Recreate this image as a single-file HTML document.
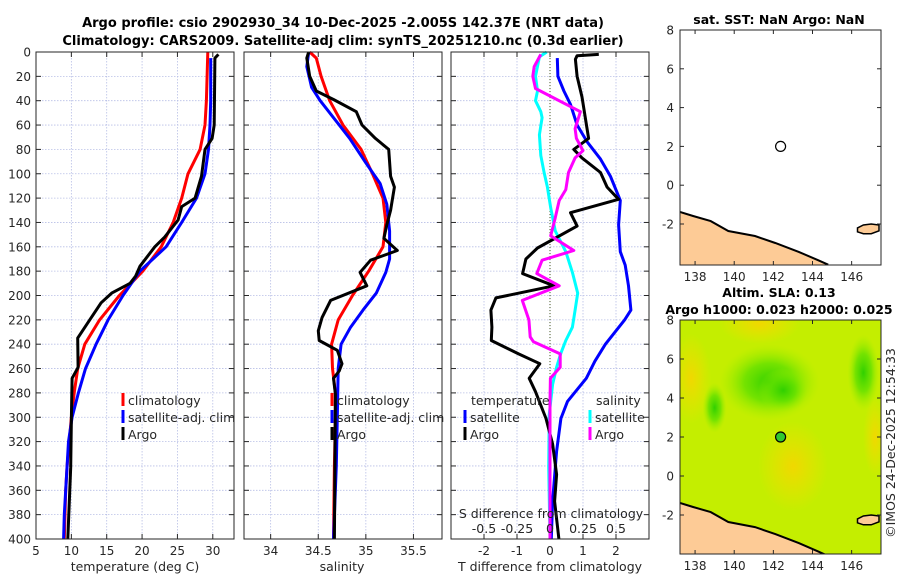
<!DOCTYPE html>
<html><head><meta charset="utf-8"><style>
html,body{margin:0;padding:0;background:#fff;}
svg{display:block;font-family:"DejaVu Sans","Liberation Sans",sans-serif;}
</style></head><body>
<svg id="fig" width="900" height="580" viewBox="0 0 900 580" xmlns="http://www.w3.org/2000/svg">
<defs>
<radialGradient id="g1" cx="50%" cy="50%" r="50%"><stop offset="0" stop-color="#30d000"/><stop offset="0.5" stop-color="#60e000" stop-opacity="0.8"/><stop offset="1" stop-color="#a0ee00" stop-opacity="0"/></radialGradient>
<radialGradient id="g2" cx="50%" cy="50%" r="50%"><stop offset="0" stop-color="#f0d800"/><stop offset="1" stop-color="#f0e000" stop-opacity="0"/></radialGradient>
<clipPath id="clipSla"><rect x="680" y="320" width="201" height="234"/></clipPath>
<clipPath id="clipSst"><rect x="680" y="30" width="201" height="235"/></clipPath>
</defs>
</svg>
<script>
// ---- data: temperature panel ----
const climDepth=[0,20,40,60,80,100,120,140,160,180,200,220,240,260,280,300,320,340,360,380,400];
const climTemp=[29.3,29.2,29.1,28.9,28.2,26.5,25.6,24.4,22.7,20.1,16.8,14.0,11.9,10.9,10.4,10.0,9.7,9.4,9.2,9.1,9.0];
const satDepth=[5,20,40,60,80,100,120,140,160,180,200,220,240,260,280,300,320,340,360,380,400];
const satTemp=[29.7,29.7,29.7,29.6,29.4,28.9,27.7,25.6,23.4,19.7,17.3,15.2,13.5,12.0,11.0,10.1,9.6,9.4,9.2,9.0,8.9];
const argoDepth=[2,5,60,71,80,102,120,127,138,152,160,176,184,190,198,206,220,235,259,268,300,341,400];
const argoTemp=[30.8,30.3,30.2,29.9,28.9,28.4,27.5,25.6,25.1,23.2,21.8,19.7,19.1,18.3,15.7,14.2,12.6,10.9,10.95,10.1,10.0,9.9,9.5];
// ---- salinity panel ----
const climSDepth=[0,5,20,40,60,80,100,120,140,160,180,200,220,240,260,280,300,340,400];
const climSal=[34.41,34.48,34.53,34.62,34.76,34.95,35.07,35.18,35.21,35.18,35.03,34.86,34.71,34.64,34.65,34.68,34.68,34.67,34.66];
const satSDepth=[0,12,29,40,54,71,91,108,125,147,170,181,198,212,226,240,260,300,340,400];
const satSal=[34.4,34.38,34.43,34.52,34.66,34.83,35.0,35.15,35.22,35.25,35.25,35.21,35.11,34.97,34.84,34.74,34.71,34.7,34.69,34.66];
const argoSDepth=[0,5,20,32,39,49,60,71,80,102,111,130,142,153,163,171,181,192,204,218,229,237,245,256,262,268,281,400];
const argoSal=[34.4,34.38,34.41,34.48,34.66,34.9,34.96,35.1,35.24,35.26,35.3,35.26,35.22,35.19,35.33,35.05,34.94,35.01,34.63,34.54,34.5,34.51,34.7,34.75,34.72,34.66,34.68,34.67];
// ---- difference panel ----
const dTsatDepth=[5,20,32,43,60,74,88,102,122,142,164,175,192,212,220,240,254,268,287,301,328,369,400];
const dTsat=[0.22,0.24,0.42,0.62,0.82,1.13,1.53,1.83,2.13,2.08,2.13,2.28,2.38,2.45,2.26,1.68,1.36,1.1,0.53,0.33,0.2,0.08,0.04];
const dTargoDepth=[2,3,6,20,37,71,80,87,99,111,121,132,143,161,170,182,192,202,212,226,237,248,256,268,279,301,322,347,369,400];
const dTargo=[1.48,0.82,0.77,0.82,0.97,1.17,0.72,0.97,1.53,1.73,2.08,0.62,0.82,-0.38,-0.73,-0.83,0.12,-1.64,-1.79,-1.76,-1.78,-0.95,-0.31,-0.63,-0.44,-0.12,0.08,0.2,0.14,0.27];
const dSsatDepth=[0,4,20,32,40,49,54,68,85,99,111,128,147,164,181,198,212,226,237,248,259,273,298,341,400];
const dSsat=[-0.025,-0.08,-0.11,-0.095,-0.11,-0.07,-0.06,-0.08,-0.07,-0.045,-0.02,0.005,0.04,0.12,0.17,0.21,0.19,0.17,0.12,0.08,0.05,0.02,-0.006,-0.01,0];
const dSargoDepth=[2,12,20,30,49,63,71,81,87,99,113,122,136,151,163,171,182,192,204,220,234,238,248,259,268,287,400];
const dSargo=[-0.07,-0.12,-0.13,-0.11,0.23,0.19,0.2,0.25,0.19,0.14,0.12,0.07,0.04,0.005,0.18,-0.06,-0.1,0.07,-0.21,-0.16,-0.15,-0.125,0.077,0.077,0.003,0,0];
// ---- ticks ----
const depthTicks=[0,20,40,60,80,100,120,140,160,180,200,220,240,260,280,300,320,340,360,380,400];
const tempTicks=[5,10,15,20,25,30];
const salTicks=[34,34.5,35,35.5];
const dTTicks=[-2,-1,0,1,2];
const dSTicks=[-0.5,-0.25,0,0.25,0.5];
const latTicks=[8,6,4,2,0,-2];
const lonTicks=[138,140,142,144,146];
// ---- map data ----
const argoLon=[142.37];
const argoLat=[2.0];
const coastLon=[137.23,137.9,138.8,139.7,141.06,142.1,143.3,144.27,144.8];
const coastLat=[-1.38,-1.59,-1.85,-2.36,-2.62,-2.98,-3.44,-3.86,-4.1];
const islandLon=[146.3,146.6,147.0,147.4,147.4,147.0,146.6,146.3];
const islandLat=[-2.2,-2.05,-2.0,-2.05,-2.35,-2.5,-2.5,-2.4];

const NS="http://www.w3.org/2000/svg";
const svg=document.getElementById('fig');
function mk(tag,attrs,parent){const e=document.createElementNS(NS,tag);for(const k in attrs)e.setAttribute(k,attrs[k]);(parent||svg).appendChild(e);return e;}
function txt(x,y,s,size,anchor,weight){const t=mk('text',{x:x,y:y,'font-size':size||12,'text-anchor':anchor||'middle','fill':'#262626'});if(weight){t.setAttribute('font-weight',weight);t.setAttribute('fill','#000');}t.textContent=s;return t;}

const TOP=52,BOT=539;
function yD(d){return TOP+(d/400)*(BOT-TOP);}
function scaleX(x0,x1,v0,v1){return v=>x0+(v-v0)/(v1-v0)*(x1-x0);}
const P1={x0:36,x1:234}, P2={x0:244,x1:442}, P3={x0:451,x1:649};
const xT=scaleX(P1.x0,P1.x1,5,33);
const xS=scaleX(P2.x0,P2.x1,33.72,35.8);
const xDT=scaleX(P3.x0,P3.x1,-3,3);
const xDS=scaleX(P3.x0,P3.x1,-0.75,0.75);

function panelFrame(P,xticks,xs,name,showY){
  const g=mk('g',{});
  
  
  mk('rect',{x:P.x0,y:TOP,width:P.x1-P.x0,height:BOT-TOP,fill:'#fff'},g);
  depthTicks.forEach(d=>{
    const l=mk('line',{x1:P.x0,x2:P.x1,y1:yD(d),y2:yD(d),stroke:'#b8bfe6','stroke-width':0.8,'stroke-dasharray':'1.5,1.5'},g);
    
    
    mk('line',{x1:P.x0,x2:P.x0+5,y1:yD(d),y2:yD(d),stroke:'#262626'},g);
    mk('line',{x1:P.x1-5,x2:P.x1,y1:yD(d),y2:yD(d),stroke:'#262626'},g);
    if(showY){const t=txt(P.x0-5,yD(d)+4.5,String(d),12,'end');g.appendChild(t);}
  });
  xticks.forEach(v=>{
    const x=xs(v);
    const l=mk('line',{x1:x,x2:x,y1:TOP,y2:BOT,stroke:'#b8bfe6','stroke-width':0.8,'stroke-dasharray':'1.5,1.5'},g);
    
    
    mk('line',{x1:x,x2:x,y1:BOT-5,y2:BOT,stroke:'#262626'},g);
    mk('line',{x1:x,x2:x,y1:TOP,y2:TOP+5,stroke:'#262626'},g);
    const t=txt(x,BOT+16,String(v),12);
    
    
    g.appendChild(t);
  });
  return g;
}
function series(depths,vals,xs,color,name,w){
  const d=depths.map((dd,i)=>(i?'L':'M')+xs(vals[i]).toFixed(1)+','+yD(dd).toFixed(1)).join(' ');
  const p=mk('path',{d:d,fill:'none',stroke:color,'stroke-width':w||3,'stroke-linejoin':'round'});
  
  
  return p;
}
function border(P){mk('rect',{x:P.x0,y:TOP,width:P.x1-P.x0,height:BOT-TOP,fill:'none',stroke:'#262626','stroke-width':1});}
function legendEntry(x,y,color,label,name){
  const g=mk('g',{});
  
  
  mk('line',{x1:x,x2:x,y1:y-12,y2:y+1,stroke:color,'stroke-width':3},g);
  const t=txt(x+5,y,label,12.5,'start');g.appendChild(t);
}

// Panel 1
panelFrame(P1,tempTicks,xT,'temperature-panel',true);
series(climDepth,climTemp,xT,'#ff0000','climatology-temp-line');
series(satDepth,satTemp,xT,'#0000ff','satellite-temp-line');
series(argoDepth,argoTemp,xT,'#000000','argo-temp-line');
border(P1);
legendEntry(123,405,'#ff0000','climatology','legend-climatology');
legendEntry(123,422,'#0000ff','satellite-adj. clim','legend-satellite');
legendEntry(123,439,'#000000','Argo','legend-argo');
let t=txt(135,571,'temperature (deg C)',12.5);

// Panel 2
panelFrame(P2,salTicks,xS,'salinity-panel',false);
series(climSDepth,climSal,xS,'#ff0000','climatology-salinity-line');
series(satSDepth,satSal,xS,'#0000ff','satellite-salinity-line');
series(argoSDepth,argoSal,xS,'#000000','argo-salinity-line');
border(P2);
legendEntry(332,405,'#ff0000','climatology','legend-sal-climatology');
legendEntry(332,422,'#0000ff','satellite-adj. clim','legend-sal-satellite');
legendEntry(332,439,'#000000','Argo','legend-sal-argo');
t=txt(342,571,'salinity',12.5);

// Panel 3
panelFrame(P3,dTTicks,xDT,'difference-panel',false);
const zl=mk('line',{x1:xDT(0),x2:xDT(0),y1:TOP,y2:BOT,stroke:'#4a5a20','stroke-width':1,'stroke-dasharray':'1,2'});


series(dSsatDepth,dSsat,xDS,'#00ffff','satellite-salinity-diff-line');
series(dTsatDepth,dTsat,xDT,'#0000ff','satellite-temp-diff-line');
series(dTargoDepth,dTargo,xDT,'#000000','argo-temp-diff-line');
series(dSargoDepth,dSargo,xDS,'#ff00ff','argo-salinity-diff-line');
border(P3);
t=txt(471,405,'temperature',12.5,'start');
t=txt(596,405,'salinity',12.5,'start');
legendEntry(465,422,'#0000ff','satellite','legend-dt-satellite');
legendEntry(465,439,'#000000','Argo','legend-dt-argo');
legendEntry(590,422,'#00ffff','satellite','legend-ds-satellite');
legendEntry(590,439,'#ff00ff','Argo','legend-ds-argo');
t=txt(551,518,'S difference from climatology',12.5);
dSTicks.forEach(v=>{const tt=txt(xDS(v),533,String(v),12.5);

});
t=txt(550,571,'T difference from climatology',12.5);

// Titles
t=txt(343,27,'Argo profile: csio 2902930_34 10-Dec-2025 -2.005S 142.37E (NRT data)',13,'middle','bold');
t=txt(343,45,'Climatology: CARS2009. Satellite-adj clim: synTS_20251210.nc (0.3d earlier)',13,'middle','bold');

// Maps
function mapPanel(top,bot,name,clipId,sla){
  const x0=680,x1=881;
  const lonS=scaleX(x0,x1,137.23,147.5);
  const pxPerDeg=(top===30)?19.4:19.5;
  const latS=v=>top+(8-v)*pxPerDeg;
  const g=mk('g',{});
  
  
  const cg=mk('g',{'clip-path':'url(#'+clipId+')'},g);
  if(sla){
    mk('rect',{x:x0,y:top,width:x1-x0,height:bot-top,fill:'#c4ee00'},cg);
    mk('ellipse',{cx:lonS(141.3),cy:latS(7.8),rx:40,ry:20,fill:'url(#g2)'},cg);
    mk('ellipse',{cx:lonS(137.8),cy:latS(5),rx:20,ry:45,fill:'url(#g2)'},cg);
    mk('ellipse',{cx:lonS(143),cy:latS(0.5),rx:35,ry:45,fill:'url(#g2)'},cg);
    mk('ellipse',{cx:lonS(147.2),cy:latS(2),rx:12,ry:40,fill:'url(#g2)'},cg);
    mk('ellipse',{cx:lonS(141.8),cy:latS(4.8),rx:50,ry:38,fill:'url(#g1)'},cg);
    mk('ellipse',{cx:lonS(142.5),cy:latS(4.4),rx:25,ry:22,fill:'url(#g1)'},cg);
    mk('ellipse',{cx:lonS(146.6),cy:latS(5.3),rx:16,ry:38,fill:'url(#g1)'},cg);
    mk('ellipse',{cx:lonS(139),cy:latS(3.5),rx:12,ry:25,fill:'url(#g1)'},cg);
  }
  let d='M'+coastLon.map((v,i)=>lonS(v).toFixed(1)+','+latS(coastLat[i]).toFixed(1)).join(' L')+' L'+x0+','+bot+' Z';
  const land=mk('path',{d:d,fill:'#fdcb96',stroke:'none'},cg);
  
  
  d='M'+coastLon.map((v,i)=>lonS(v).toFixed(1)+','+latS(coastLat[i]).toFixed(1)).join(' L');
  mk('path',{d:d,fill:'none',stroke:'#000','stroke-width':2},cg);
  d='M'+islandLon.map((v,i)=>lonS(v).toFixed(1)+','+latS(islandLat[i]).toFixed(1)).join(' L')+' Z';
  const isl=mk('path',{d:d,fill:'#fdcb96',stroke:'#000','stroke-width':1.5},cg);
  
  
  argoLon.forEach((v,i)=>{
    const c=mk('circle',{cx:lonS(v),cy:latS(argoLat[i]),r:5,fill:sla?'#30c830':'none',stroke:'#000','stroke-width':1.2},g);
    
    
  });
  mk('rect',{x:x0,y:top,width:x1-x0,height:bot-top,fill:'none',stroke:'#262626'},g);
  latTicks.forEach(v=>{
    const y=latS(v);
    mk('line',{x1:x0,x2:x0+4,y1:y,y2:y,stroke:'#262626'},g);
    mk('line',{x1:x1-4,x2:x1,y1:y,y2:y,stroke:'#262626'},g);
    const tt=txt(x0-6,y+4.5,String(v),12,'end');
    
    
    g.appendChild(tt);
  });
  lonTicks.forEach(v=>{
    const x=lonS(v);
    mk('line',{x1:x,x2:x,y1:bot-4,y2:bot,stroke:'#262626'},g);
    mk('line',{x1:x,x2:x,y1:top,y2:top+4,stroke:'#262626'},g);
    const tt=txt(x,bot+16,String(v),12);
    
    
    g.appendChild(tt);
  });
}
mapPanel(30,265,'sst-map','clipSst',false);
mapPanel(320,554,'sla-map','clipSla',true);
t=txt(779,24,'sat. SST: NaN Argo: NaN',12.5,'middle','bold');
t=txt(779,297,'Altim. SLA: 0.13',12.5,'middle','bold');
t=txt(779,314,'Argo h1000: 0.023 h2000: 0.025',12.5,'middle','bold');
t=txt(0,0,'©IMOS 24-Dec-2025 12:54:33',12.5,'middle');
t.setAttribute('transform','translate(895,443) rotate(-90)');


</script>
</body></html>
